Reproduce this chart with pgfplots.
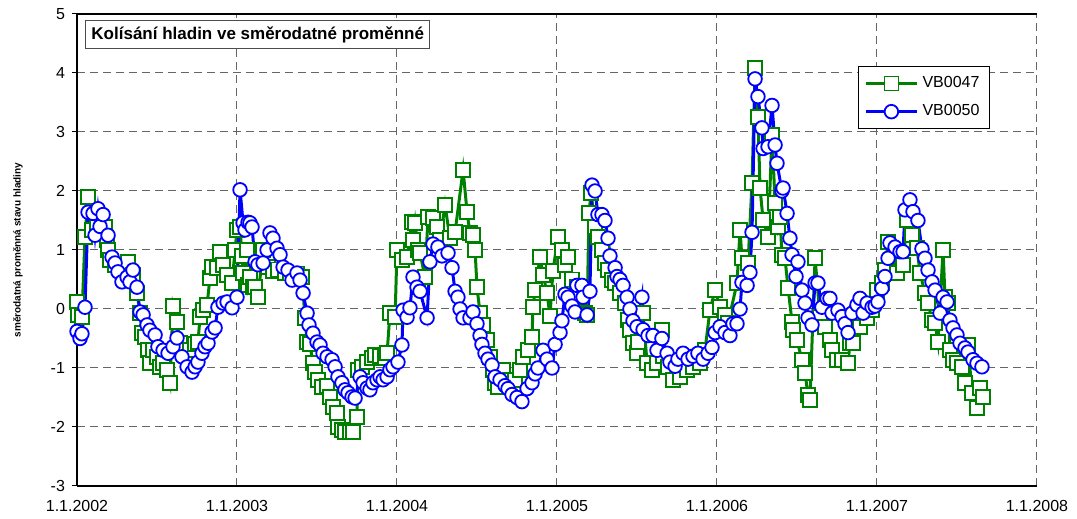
\documentclass[border=0pt]{standalone}
\usepackage{pgfplots}
\pgfplotsset{compat=1.18}
\usepackage{fontspec}
\setmainfont{Liberation Sans}
\definecolor{xlgreen}{RGB}{0,128,0}
\definecolor{xlblue}{RGB}{0,0,255}
\begin{document}
\begin{tikzpicture}
\begin{axis}[
  scale only axis, width=480pt, height=236pt,
  xmin=0, xmax=6, ymin=-3, ymax=5,
  xtick={0,1,2,3,4,5,6},
  xticklabels={1.1.2002,1.1.2003,1.1.2004,1.1.2005,1.1.2006,1.1.2007,1.1.2008},
  ytick={-3,-2,-1,0,1,2,3,4,5},
  /pgf/number format/assume math mode=true,
  ticklabel style={font=\fontsize{8}{9.6}\selectfont},
  axis x line*=box, axis y line*=left,
  xtick pos=bottom, ytick pos=left,
  tick align=outside, major tick length=2.5pt,
  xtick style={draw=none},
  ytick style={black, line width=0.5pt},
  extra x ticks={0}, extra x tick labels={},
  extra x tick style={grid=none, tick style={draw=black, line width=0.5pt}},
  axis line style={black, line width=0.6pt},
  grid=major,
  major grid style={dash pattern=on 4pt off 2.5pt, black!60, line width=0.5pt},
  xticklabel style={yshift=-1pt},
  ylabel={směrodatná proměnná stavu hladiny},
  ylabel style={at={(axis description cs:-0.0615,0.5)}, anchor=center, font=\fontsize{5}{6}\selectfont\bfseries},
  legend style={at={(0.951,0.89)}, anchor=north east, draw=black, line width=0.5pt,
    font=\fontsize{8}{9.6}\selectfont, row sep=3pt, inner sep=3pt},
  legend cell align=left,
  legend image code/.code={\draw[mark repeat=2,mark phase=2] plot coordinates {(0cm,0cm)(0.45cm,0cm)(0.9cm,0cm)};},
  clip=false,
]
\addplot[xlgreen, line width=1.5pt, mark=square*, mark size=3.5pt,
  mark options={fill=white, draw=xlgreen, line width=0.9pt}] coordinates {
(0.000,0.12)(0.006,-0.1)(0.031,-0.13)(0.050,1.22)(0.069,1.9)(0.094,1.34)(0.125,1.42)(0.175,1.39)
(0.188,1.17)(0.194,1.0)(0.206,0.83)(0.238,0.75)(0.269,0.7)(0.319,0.8)(0.350,0.58)(0.375,0.27)
(0.394,-0.07)(0.406,-0.41)(0.425,-0.47)(0.444,-0.7)(0.456,-0.92)(0.475,-0.7)(0.500,-0.81)(0.519,-0.98)
(0.538,-0.92)(0.563,-1.03)(0.581,-1.25)(0.600,0.05)(0.625,-0.22)(0.644,-0.58)(0.675,-0.7)(0.706,-0.7)
(0.738,-0.6)(0.756,-0.56)(0.769,-0.14)(0.788,-0.02)(0.813,0.07)(0.831,0.53)(0.844,0.71)(0.875,0.7)
(0.894,0.97)(0.913,0.75)(0.938,0.58)(0.969,0.44)(0.988,1.0)(1.000,1.34)(1.019,1.39)(1.031,0.9)
(1.038,0.61)(1.063,1.0)(1.069,0.4)(1.081,0.54)(1.100,0.37)(1.113,0.37)(1.131,0.2)(1.163,1.0)
(1.194,0.71)(1.225,0.65)(1.256,0.67)(1.300,0.61)(1.331,0.6)(1.375,0.6)(1.406,0.54)(1.425,-0.15)
(1.438,-0.56)(1.456,-0.6)(1.475,-0.92)(1.488,-1.07)(1.506,-1.2)(1.531,-1.32)(1.563,-1.3)(1.581,-1.49)
(1.600,-1.66)(1.625,-1.76)(1.631,-2.0)(1.656,-2.05)(1.675,-2.08)(1.706,-2.08)(1.725,-2.08)(1.750,-1.83)
(1.756,-1.03)(1.781,-0.98)(1.813,-0.9)(1.844,-0.83)(1.863,-0.78)(1.894,-0.8)(1.925,-0.83)(1.938,-0.75)
(1.956,-0.07)(1.988,-0.14)(2.000,1.0)(2.031,0.83)(2.063,0.88)(2.094,1.47)(2.100,1.17)(2.113,1.46)
(2.131,1.0)(2.144,0.95)(2.175,0.54)(2.194,1.56)(2.225,1.54)(2.250,1.39)(2.269,1.17)(2.300,1.76)
(2.331,1.2)(2.363,1.3)(2.413,2.36)(2.438,1.64)(2.456,1.29)(2.475,1.25)(2.488,1.0)(2.500,0.37)
(2.519,-0.07)(2.538,-0.27)(2.563,-0.53)(2.581,-0.81)(2.600,-1.03)(2.613,-1.25)(2.631,-1.32)(2.663,-1.03)
(2.706,-1.2)(2.738,-1.2)(2.769,-1.03)(2.788,-0.81)(2.819,-0.7)(2.844,-0.47)(2.850,0.03)(2.863,0.32)
(2.894,0.88)(2.913,0.58)(2.938,0.27)(2.956,-0.12)(2.975,0.65)(3.006,1.22)(3.031,1.0)(3.050,0.75)
(3.069,0.88)(3.094,0.5)(3.125,0.37)(3.144,0.19)(3.175,-0.07)(3.188,-0.1)(3.200,1.63)(3.213,1.97)
(3.238,1.39)(3.256,1.22)(3.281,1.0)(3.300,0.78)(3.319,0.66)(3.344,0.49)(3.363,0.44)(3.394,0.27)
(3.425,0.1)(3.444,-0.19)(3.456,-0.36)(3.475,-0.58)(3.500,-0.75)(3.506,-0.56)(3.538,-0.07)(3.563,-0.92)
(3.594,-1.03)(3.625,-0.92)(3.656,-0.36)(3.663,-0.8)(3.694,-0.98)(3.725,-1.2)(3.769,-1.15)(3.813,-1.03)
(3.850,-0.98)(3.894,-0.92)(3.925,-0.7)(3.956,-0.02)(3.988,0.32)(4.019,0.03)(4.050,-0.1)(4.069,-0.24)
(4.125,0.44)(4.144,1.34)(4.156,0.86)(4.194,0.78)(4.219,2.14)(4.238,4.08)(4.256,3.25)(4.269,2.05)
(4.288,1.51)(4.319,1.22)(4.344,2.95)(4.363,1.8)(4.381,1.39)(4.394,1.56)(4.406,0.92)(4.425,0.86)
(4.444,0.36)(4.469,-0.22)(4.475,-0.36)(4.500,-0.53)(4.531,-0.86)(4.550,-1.08)(4.569,-1.46)(4.581,-1.54)
(4.613,0.86)(4.644,-0.14)(4.675,-0.31)(4.706,-0.53)(4.719,-0.7)(4.750,-0.86)(4.781,-0.86)(4.819,-0.92)
(4.831,-0.58)(4.850,-0.58)(4.875,-0.07)(4.894,-0.3)(4.906,0.03)(4.938,-0.15)(4.969,-0.02)(5.000,0.32)
(5.031,0.44)(5.050,0.66)(5.069,1.13)(5.125,0.61)(5.163,0.75)(5.188,1.51)(5.219,1.25)(5.250,1.03)
(5.269,0.61)(5.300,0.27)(5.319,0.1)(5.344,-0.19)(5.363,-0.24)(5.381,-0.56)(5.413,1.0)(5.425,0.2)
(5.444,0.1)(5.456,-0.7)(5.475,-0.86)(5.500,-0.92)(5.531,-0.98)(5.550,-1.25)(5.569,-0.61)(5.594,-1.42)
(5.625,-1.68)(5.644,-1.34)(5.663,-1.49)
};
\addlegendentry{VB0047}
\addplot[xlblue, line width=1.5pt, mark=*, mark size=3.4pt,
  mark options={fill=white, draw=xlblue, line width=0.9pt}] coordinates {
(0.000,-0.38)(0.019,-0.5)(0.031,-0.42)(0.050,0.03)(0.069,1.64)(0.100,1.62)(0.113,1.25)(0.131,1.7)
(0.144,1.4)(0.163,1.6)(0.194,1.25)(0.219,0.88)(0.238,0.78)(0.256,0.63)(0.281,0.46)(0.313,0.54)
(0.331,0.46)(0.350,0.66)(0.375,0.37)(0.394,-0.05)(0.413,-0.1)(0.438,-0.27)(0.456,-0.36)(0.488,-0.44)
(0.506,-0.64)(0.538,-0.7)(0.569,-0.75)(0.600,-0.64)(0.625,-0.49)(0.656,-0.81)(0.688,-0.98)(0.719,-1.07)
(0.738,-0.98)(0.756,-0.9)(0.781,-0.75)(0.800,-0.64)(0.819,-0.58)(0.844,-0.39)(0.863,-0.32)(0.881,0.03)
(0.913,0.1)(0.938,0.12)(0.969,0.02)(1.000,0.2)(1.019,2.02)(1.038,1.46)(1.050,1.34)(1.069,1.47)
(1.081,1.46)(1.094,1.39)(1.113,0.8)(1.131,0.75)(1.163,0.78)(1.188,1.0)(1.206,1.29)(1.225,1.2)
(1.250,1.03)(1.269,0.92)(1.288,0.71)(1.319,0.66)(1.344,0.49)(1.375,0.61)(1.394,0.49)(1.413,0.27)
(1.438,-0.07)(1.450,-0.27)(1.475,-0.41)(1.500,-0.56)(1.519,-0.61)(1.538,-0.75)(1.563,-0.81)(1.594,-0.86)
(1.613,-0.98)(1.631,-1.15)(1.656,-1.25)(1.675,-1.37)(1.694,-1.42)(1.719,-1.49)(1.738,-1.51)(1.769,-1.15)
(1.788,-1.25)(1.813,-1.34)(1.831,-1.37)(1.850,-1.25)(1.875,-1.2)(1.894,-1.15)(1.913,-1.2)(1.938,-1.15)
(1.956,-1.03)(1.975,-0.98)(2.006,-0.9)(2.031,-0.61)(2.038,-0.02)(2.063,-0.14)(2.081,0.02)(2.100,0.54)
(2.125,0.37)(2.144,0.3)(2.188,-0.15)(2.206,0.8)(2.225,1.1)(2.256,1.05)(2.281,0.9)(2.319,0.95)
(2.344,0.7)(2.363,0.3)(2.381,0.2)(2.394,0.0)(2.413,-0.15)(2.456,-0.15)(2.475,-0.05)(2.500,-0.25)
(2.519,-0.45)(2.531,-0.6)(2.550,-0.75)(2.569,-0.85)(2.594,-0.95)(2.613,-1.15)(2.644,-1.2)(2.675,-1.3)
(2.694,-1.35)(2.719,-1.45)(2.750,-1.5)(2.781,-1.57)(2.813,-1.35)(2.844,-1.25)(2.863,-1.1)(2.881,-1.0)
(2.913,-0.7)(2.938,-0.85)(2.969,-1.0)(2.988,-0.6)(3.019,-0.4)(3.031,-0.2)(3.050,0.25)(3.069,0.2)
(3.094,0.05)(3.113,-0.05)(3.125,0.4)(3.156,0.4)(3.163,0.2)(3.188,-0.1)(3.206,0.3)(3.219,2.1)
(3.238,2.0)(3.256,1.6)(3.281,1.6)(3.300,1.5)(3.319,1.2)(3.331,0.9)(3.363,0.7)(3.375,0.55)
(3.394,0.5)(3.413,0.4)(3.438,0.2)(3.456,0.0)(3.475,-0.2)(3.500,-0.3)(3.531,0.2)(3.538,-0.35)
(3.569,-0.45)(3.600,-0.45)(3.625,-0.7)(3.656,-0.5)(3.688,-0.75)(3.706,-0.9)(3.738,-0.97)(3.756,-0.85)
(3.788,-0.75)(3.819,-0.85)(3.850,-0.8)(3.881,-0.75)(3.913,-0.85)(3.944,-0.75)(3.969,-0.65)(3.988,-0.4)
(4.019,-0.3)(4.050,-0.4)(4.081,-0.45)(4.100,-0.25)(4.125,-0.25)(4.144,0.0)(4.156,0.45)(4.188,0.4)
(4.206,0.62)(4.219,1.3)(4.238,3.9)(4.256,3.6)(4.281,3.07)(4.288,2.72)(4.319,2.75)(4.344,3.45)
(4.363,2.78)(4.375,2.47)(4.406,2.0)(4.413,2.05)(4.438,1.62)(4.456,1.2)(4.469,0.92)(4.494,0.55)
(4.506,0.8)(4.531,0.32)(4.550,0.1)(4.569,-0.15)(4.594,-0.27)(4.613,0.44)(4.631,0.44)(4.656,0.03)
(4.688,0.18)(4.706,0.18)(4.719,-0.07)(4.756,-0.02)(4.781,-0.13)(4.800,-0.25)(4.819,-0.4)(4.844,-0.07)
(4.875,0.07)(4.894,0.18)(4.913,-0.07)(4.938,0.1)(4.969,0.03)(4.988,0.05)(5.006,0.12)(5.031,0.35)
(5.050,0.55)(5.069,0.86)(5.081,1.12)(5.113,1.05)(5.144,0.97)(5.163,0.97)(5.175,1.68)(5.206,1.85)
(5.225,1.65)(5.256,1.5)(5.281,1.02)(5.300,0.86)(5.319,0.66)(5.344,0.46)(5.363,0.32)(5.394,-0.07)
(5.413,0.2)(5.438,0.12)(5.456,-0.19)(5.475,-0.32)(5.500,-0.44)(5.519,-0.58)(5.550,-0.66)(5.569,-0.73)
(5.600,-0.86)(5.625,-0.92)(5.656,-0.98)
};
\addlegendentry{VB0050}
\node[draw=black!70, fill=white, line width=0.5pt, anchor=north west, inner sep=3pt,
  font=\fontsize{8.5}{10}\selectfont\bfseries] at (rel axis cs:0.0083,0.987)
  {Kolísání hladin ve směrodatné proměnné};
\end{axis}
\pgfresetboundingbox
\path (-38.5pt,-16.5pt) rectangle (500pt,243pt);
\end{tikzpicture}
\end{document}
